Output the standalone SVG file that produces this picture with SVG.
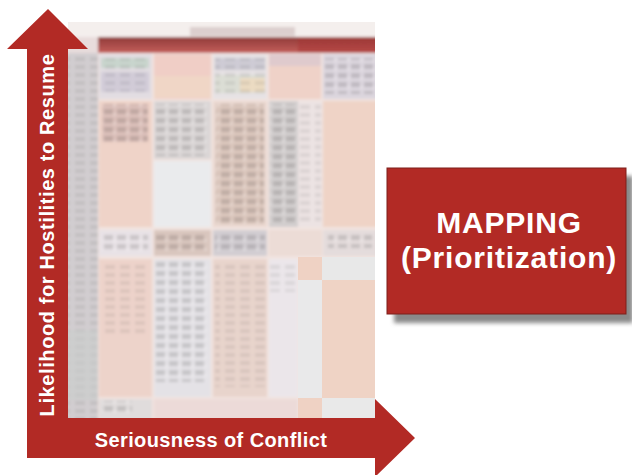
<svg xmlns="http://www.w3.org/2000/svg" width="632" height="475" viewBox="0 0 632 475">
  <style>
    .axis-label { font-family: "Liberation Sans", Arial, sans-serif; font-weight: bold; fill: #ffffff; }
    .box-label { font-family: "Liberation Sans", Arial, sans-serif; font-weight: bold; fill: #ffffff; font-size: 30px; letter-spacing: 0.8px; text-anchor: middle; }
    .red { fill: #b22a25; }
  </style>
  <defs>
    <pattern id="tx" width="13" height="9" patternUnits="userSpaceOnUse">
      <rect x="0" y="1" width="9" height="5" fill="#000000" opacity="0.13"/>
      <rect x="9" y="5" width="3" height="3" fill="#ffffff" opacity="0.25"/>
    </pattern>
    <pattern id="tx2" width="15" height="8" patternUnits="userSpaceOnUse">
      <rect x="0" y="1" width="10" height="4" fill="#000000" opacity="0.07"/>
    </pattern>
    <linearGradient id="hdr" x1="0" y1="0" x2="0" y2="1">
      <stop offset="0" stop-color="#8f3b37"/>
      <stop offset="1" stop-color="#c45e5b"/>
    </linearGradient>
    <clipPath id="tclip"><rect x="68" y="22" width="307" height="396"/></clipPath>
    <filter id="soft" x="-5%" y="-5%" width="110%" height="110%">
      <feGaussianBlur stdDeviation="1.8"/>
    </filter>
    <filter id="shadowblur" x="-10%" y="-10%" width="120%" height="120%">
      <feGaussianBlur stdDeviation="2"/>
    </filter>
  </defs>

  <rect width="632" height="475" fill="#ffffff"/>

  <!-- pixelated table thumbnail -->
  <g id="table-image" clip-path="url(#tclip)">
    <g filter="url(#soft)">
      <rect x="60" y="15" width="322" height="410" fill="#f2e4e0"/>
      <!-- title area -->
      <rect x="60" y="15" width="322" height="22" fill="#f4efed"/>
      <rect x="190" y="27" width="105" height="9" fill="#dccfce"/>
      <!-- red header band -->
      <rect x="60" y="37" width="38" height="16" fill="#e8dcdc"/>
      <rect x="98" y="37" width="284" height="16" fill="url(#hdr)"/>
      <rect x="298" y="37" width="84" height="16" fill="#a83434" opacity="0.5"/>
      <!-- row label column -->
      <rect x="60" y="53" width="38" height="372" fill="#d2cdd0"/>
      <rect x="60" y="53" width="38" height="372" fill="url(#tx2)"/>
      <rect x="60" y="330" width="38" height="70" fill="#c9cecd" opacity="0.6"/>

      <!-- header row -->
      <rect x="99" y="54" width="53" height="45" fill="#e2dde2"/>
      <rect x="101" y="58" width="48" height="10" fill="#c9d5cd"/>
      <rect x="101" y="72" width="48" height="20" fill="#d2ccd8"/>
      <rect x="101" y="58" width="48" height="34" fill="url(#tx2)"/>
      <rect x="154" y="54" width="57" height="45" fill="#f0cec6"/>
      <rect x="154" y="76" width="57" height="22" fill="#f0d6c6"/>
      <rect x="213" y="54" width="54" height="45" fill="#e6e2e4"/>
      <rect x="215" y="58" width="50" height="12" fill="#cfccd5"/>
      <rect x="215" y="75" width="50" height="18" fill="#dcded5"/>
      <rect x="240" y="78" width="25" height="14" fill="#ecdcc3"/>
      <rect x="215" y="58" width="50" height="35" fill="url(#tx2)"/>
      <rect x="269" y="54" width="52" height="45" fill="#efd2c8"/>
      <rect x="269" y="54" width="52" height="12" fill="#dfcacd"/>
      <rect x="323" y="54" width="59" height="45" fill="#dcd6de"/>
      <rect x="325" y="58" width="50" height="36" fill="url(#tx)"/>

      <!-- row A -->
      <rect x="99" y="101" width="53" height="126" fill="#efd3c8"/>
      <rect x="102" y="104" width="46" height="38" fill="#dcc0ba"/>
      <rect x="102" y="104" width="46" height="38" fill="url(#tx)"/>
      <rect x="154" y="101" width="57" height="58" fill="#dad6d6"/>
      <rect x="156" y="104" width="52" height="52" fill="url(#tx)"/>
      <rect x="154" y="161" width="57" height="66" fill="#eaebed"/>
      <rect x="213" y="101" width="54" height="126" fill="#ead8d0"/>
      <rect x="216" y="104" width="48" height="120" fill="#dcc7bd"/>
      <rect x="216" y="104" width="48" height="120" fill="url(#tx)"/>
      <rect x="269" y="101" width="29" height="126" fill="#d2cece"/>
      <rect x="270" y="104" width="26" height="118" fill="url(#tx)"/>
      <rect x="298" y="101" width="24" height="126" fill="#ece3e3"/>
      <rect x="299" y="104" width="22" height="118" fill="url(#tx2)"/>
      <rect x="323" y="101" width="59" height="126" fill="#efd3c6"/>

      <!-- row B -->
      <rect x="99" y="230" width="53" height="26" fill="#e8e2e6"/>
      <rect x="102" y="234" width="46" height="18" fill="url(#tx)"/>
      <rect x="154" y="230" width="57" height="26" fill="#d9c6be"/>
      <rect x="156" y="233" width="52" height="20" fill="url(#tx)"/>
      <rect x="213" y="230" width="54" height="26" fill="#d2cdd2"/>
      <rect x="215" y="233" width="50" height="20" fill="url(#tx)"/>
      <rect x="269" y="230" width="53" height="26" fill="#ecdcd6"/>
      <rect x="323" y="230" width="59" height="26" fill="#e4dcdc"/>
      <rect x="328" y="234" width="44" height="14" fill="url(#tx)"/>

      <!-- row C -->
      <rect x="99" y="259" width="53" height="138" fill="#edd3ca"/>
      <rect x="102" y="262" width="46" height="72" fill="url(#tx2)"/>
      <rect x="154" y="259" width="57" height="138" fill="#e4e2e6"/>
      <rect x="156" y="262" width="52" height="120" fill="url(#tx)"/>
      <rect x="213" y="259" width="54" height="138" fill="#e8d4cc"/>
      <rect x="215" y="262" width="50" height="125" fill="url(#tx2)"/>
      <rect x="269" y="259" width="29" height="138" fill="#ebe6ea"/>
      <rect x="270" y="262" width="26" height="30" fill="url(#tx2)"/>

      <!-- row D -->
      <rect x="99" y="399" width="53" height="26" fill="#e0dcdc"/>
      <rect x="102" y="401" width="30" height="12" fill="url(#tx)"/>
      <rect x="154" y="399" width="144" height="26" fill="#ecdad8"/>
    </g>
    <!-- solid blocks on the right -->
    <rect x="298" y="257" width="24" height="23" fill="#efd2c4"/>
    <rect x="298" y="280" width="24" height="118" fill="#e9e9ea"/>
    <rect x="322" y="257" width="53" height="23" fill="#e8e8e8"/>
    <rect x="322" y="280" width="53" height="118" fill="#efd3c5"/>
    <rect x="298" y="398" width="24" height="20" fill="#efd2c4"/>
    <rect x="322" y="398" width="53" height="20" fill="#e9e9e9"/>
  </g>

  <!-- axes (L-shaped double arrow) -->
  <g id="axes">
    <path id="axis-arrows" class="red" d="M48,9 L88,49 L68,49 L68,418 L375,418 L375,399 L415,438 L375,477 L375,458 L27,458 L27,49 L7,49 Z"/>
    <g id="y-axis">
      <text class="axis-label" font-size="20" letter-spacing="0.6" text-anchor="middle" transform="translate(54,235) rotate(-90)">Likelihood for Hostilities to Resume</text>
    </g>
    <g id="x-axis">
      <text class="axis-label" font-size="20" letter-spacing="0.4" text-anchor="middle" x="211" y="447">Seriousness of Conflict</text>
    </g>
  </g>

  <!-- connectors: none besides the axes -->
  <g id="connectors"></g>

  <!-- MAPPING box -->
  <g id="mapping-box">
    <rect x="394" y="176" width="239" height="147" fill="#8a8a8a" filter="url(#shadowblur)"/>
    <rect class="red" x="387" y="168" width="239" height="146" stroke="#7d1f1b" stroke-width="1"/>
    <text class="box-label" x="509" y="233">MAPPING</text>
    <text class="box-label" x="509" y="268">(Prioritization)</text>
  </g>
</svg>
